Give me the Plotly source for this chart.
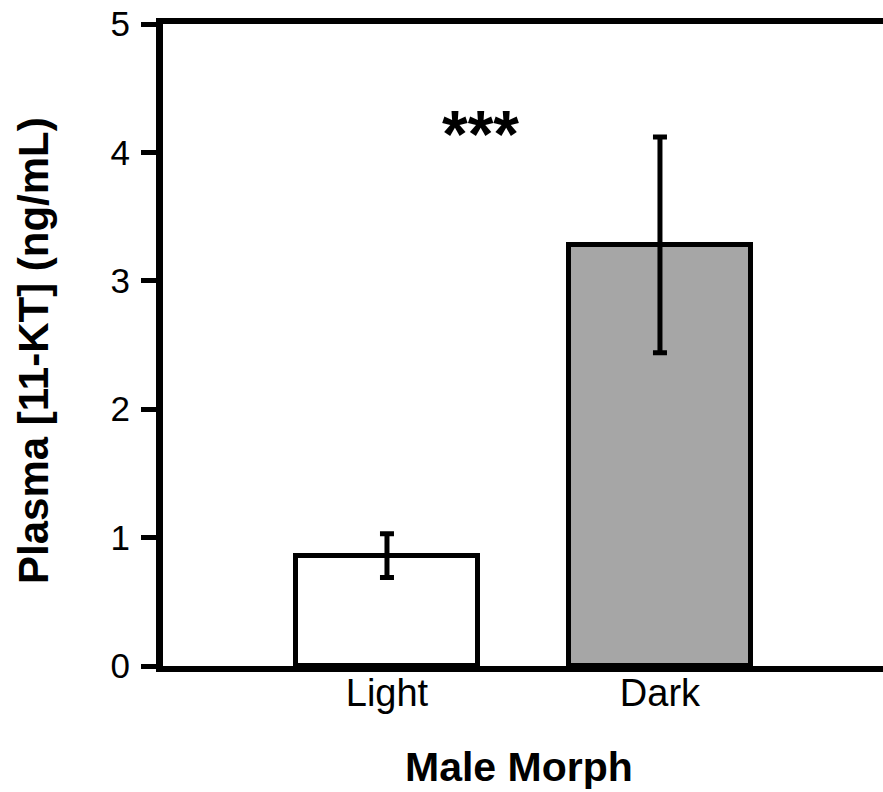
import plotly.graph_objects as go

categories = [0, 1]
category_labels = ["Light", "Dark"]
means = [0.86, 3.28]
errors = [0.17, 0.84]
fill_colors = ["#ffffff", "#a6a6a6"]
y_ticks = [0, 1, 2, 3, 4, 5]
sig_label = "***"
sig_pos = (0.344, 4.14)

FONT = "Liberation Sans, Arial, sans-serif"

fig = go.Figure()
fig.add_trace(go.Bar(
    x=categories, y=means, width=0.67,
    marker=dict(color=fill_colors, line=dict(color="black", width=5)),
    error_y=dict(type="data", array=errors, visible=True, color="black",
                 thickness=5, width=7),
    showlegend=False,
))

fig.update_layout(
    width=883, height=792,
    margin=dict(l=163, r=0, t=24, b=126),
    plot_bgcolor="white", paper_bgcolor="white",
    font=dict(family=FONT, color="black"),
    xaxis=dict(range=[-0.8205, 1.817], tickvals=categories, ticktext=category_labels,
               ticks="", showline=True, linecolor="black", linewidth=6, mirror=True,
               showgrid=False, zeroline=False, tickfont=dict(size=38, family=FONT),
               ticklabelstandoff=-12, fixedrange=True),
    yaxis=dict(range=[0, 5], tickvals=y_ticks, ticks="outside", ticklen=15,
               tickwidth=5, tickcolor="black", showline=True, linecolor="black",
               linewidth=7, showgrid=False, zeroline=False,
               tickfont=dict(size=35, family=FONT), ticklabelstandoff=4,
               fixedrange=True),
    bargap=0,
)

# boundary tick at the left end of the category axis
fig.add_shape(type="line", xref="x domain", x0=0, x1=0, yref="y", ysizemode="pixel",
              yanchor=0, y0=0, y1=-16, line=dict(color="black", width=4))

fig.add_annotation(text="Plasma [11-KT] (ng/mL)", textangle=-90, xref="paper", yref="paper",
                   x=0, y=0.5, xanchor="center", yanchor="middle", xshift=-130, yshift=-6,
                   showarrow=False,
                   font=dict(size=42, family=FONT, color="black", weight="bold"))
fig.add_annotation(text="Male Morph", xref="paper", yref="paper", x=0.5, y=0,
                   yanchor="middle", yshift=-101, xshift=-4, showarrow=False,
                   font=dict(size=41, family=FONT, color="black", weight="bold"))
fig.add_annotation(text=sig_label, x=sig_pos[0], y=sig_pos[1], xref="x", yref="y",
                   showarrow=False, font=dict(size=66, family=FONT, color="black", weight="bold"))

fig.write_html("out.html")
